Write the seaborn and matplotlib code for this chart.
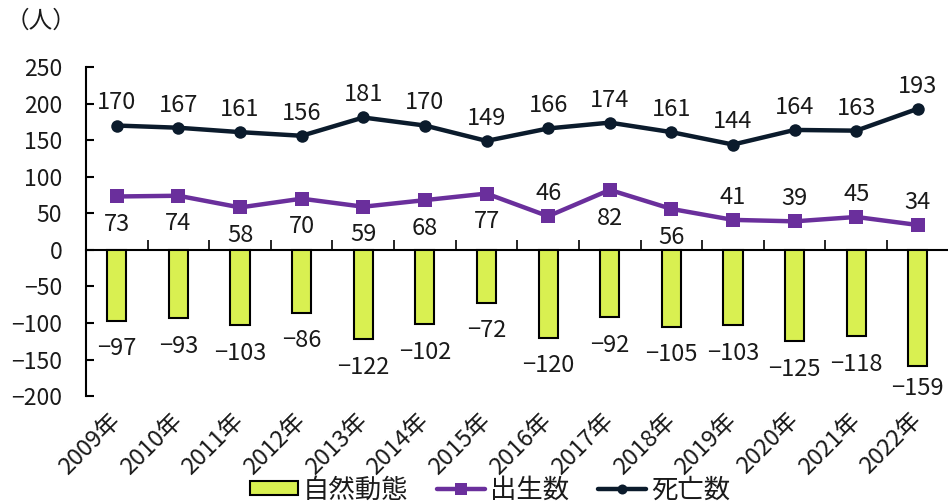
import numpy as np
import pandas as pd
import matplotlib
matplotlib.use("Agg")
import matplotlib.pyplot as plt
from matplotlib.ticker import FuncFormatter
import seaborn as sns

years = ["2009年", "2010年", "2011年", "2012年", "2013年", "2014年", "2015年",
         "2016年", "2017年", "2018年", "2019年", "2020年", "2021年", "2022年"]
natural = [-97, -93, -103, -86, -122, -102, -72, -120, -92, -105, -103, -125, -118, -159]
births = [73, 74, 58, 70, 59, 68, 77, 46, 82, 56, 41, 39, 45, 34]
deaths = [170, 167, 161, 156, 181, 170, 149, 166, 174, 161, 144, 164, 163, 193]
# whether each birth label sits above its point
births_above = [False, False, False, False, False, False, False,
                True, False, False, True, True, True, True]

sns.set_theme(style="white")
plt.rcParams["font.family"] = ["Noto Sans CJK JP", "DejaVu Sans"]

BAR = "#d9f051"
PURPLE = "#6a2f9c"
NAVY = "#0b1b2c"
TXT = "#1a1a1a"


def signed(v):
    return f"{v:g}".replace("-", "\u2212")


fig = plt.figure(figsize=(9.48, 5.04), dpi=100)
ax = fig.add_axes([0.0907, 0.214, 0.91, 0.653])

df = pd.DataFrame({"year": years, "natural": natural, "births": births, "deaths": deaths})
df["pos"] = np.arange(len(years))

sns.barplot(data=df, x="year", y="natural", color=BAR, width=0.31,
            edgecolor="black", linewidth=1.5, saturation=1, ax=ax,
            label="自然動態")
sns.lineplot(data=df, x="pos", y="births", color=PURPLE, lw=3.2, marker="s",
             markersize=10, markeredgewidth=0, ax=ax, label="出生数")
sns.lineplot(data=df, x="pos", y="deaths", color=NAVY, lw=3.2, marker="o",
             markersize=9, markeredgewidth=0, ax=ax, label="死亡数")

ax.set_xlim(-0.5, len(years) - 0.5)
ax.set_ylim(-200, 250)
ax.set_yticks(np.arange(-200, 251, 50))
ax.yaxis.set_major_formatter(FuncFormatter(lambda v, p: signed(v)))
ax.set_ylabel("")
ax.set_xlabel("")

lab_fs = 17
for i in range(len(years)):
    ax.annotate(f"{deaths[i]}", (i, deaths[i]), xytext=(0, 8), textcoords="offset points",
                ha="center", va="bottom", fontsize=lab_fs, color=TXT)
    if births_above[i]:
        ax.annotate(f"{births[i]}", (i, births[i]), xytext=(0, 8), textcoords="offset points",
                    ha="center", va="bottom", fontsize=lab_fs, color=TXT)
    else:
        ax.annotate(f"{births[i]}", (i, births[i]), xytext=(0, -12), textcoords="offset points",
                    ha="center", va="top", fontsize=lab_fs, color=TXT)
    off = -8 if i == len(years) - 1 else -12
    ax.annotate(signed(natural[i]), (i, natural[i]), xytext=(0, off),
                textcoords="offset points", ha="center", va="top", fontsize=lab_fs,
                color=TXT)

for s in ["top", "right", "bottom"]:
    ax.spines[s].set_visible(False)
ax.spines["left"].set_color("black")
ax.spines["left"].set_linewidth(1.5)
ax.yaxis.set_tick_params(direction="in", length=6, width=1.5, color="black",
                         labelsize=16.5, pad=17, left=True)
ax.xaxis.set_tick_params(length=0, labelsize=17, pad=15)
ax.set_xticks(np.arange(len(years)))
ax.set_xticklabels(years, rotation=45, ha="right", va="center",
                   rotation_mode="anchor", color=TXT)
for t in ax.get_yticklabels():
    t.set_color(TXT)

# zero baseline with category separators
zero = ax.secondary_xaxis(200 / 450)
zero.spines["bottom"].set_linewidth(1.5)
zero.spines["bottom"].set_color("black")
zero.set_xticks(np.arange(len(years) - 1) + 0.5)
zero.tick_params(direction="in", length=7, width=1.2, labelbottom=False, colors="black")

fig.text(0.006, 0.958, "（人）", fontsize=17, ha="left", va="center", color=TXT)

handles, labels = ax.get_legend_handles_labels()
order = [labels.index("自然動態"), labels.index("出生数"), labels.index("死亡数")]
leg = fig.legend([handles[k] for k in order], [labels[k] for k in order],
                 loc="center", bbox_to_anchor=(0.517, 0.028), ncol=3,
                 frameon=False, fontsize=19, handlelength=1.8, handleheight=0.45,
                 columnspacing=1.1, handletextpad=0.2, markerscale=0.8)
for t in leg.get_texts():
    t.set_color(TXT)
if ax.get_legend():
    ax.get_legend().remove()

fig.savefig("out.png", dpi=100)
